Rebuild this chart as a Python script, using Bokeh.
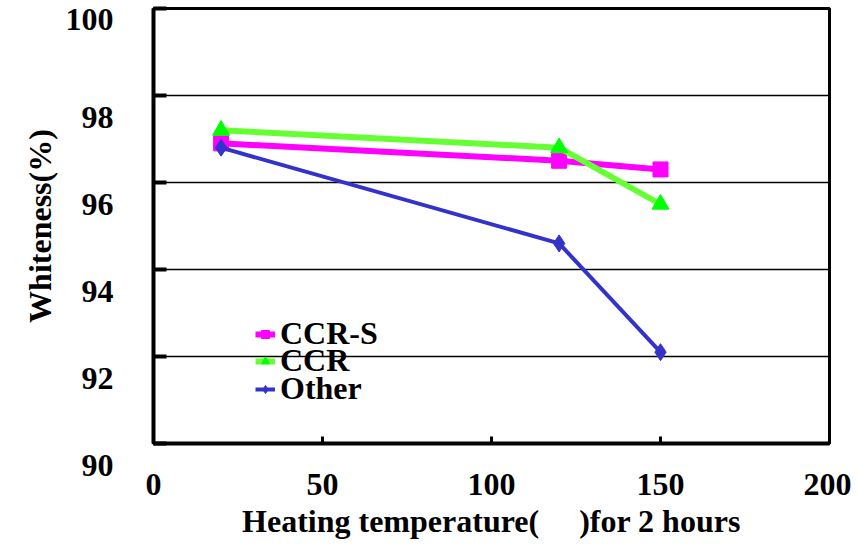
from bokeh.plotting import figure
from bokeh.models import Legend, LegendItem, FixedTicker
from bokeh.embed import file_html
from bokeh.resources import INLINE

temps = [20, 120, 150]
ccr_s = [96.9, 96.5, 96.3]
ccr = [97.2, 96.8, 95.5]
other = [96.8, 94.6, 92.1]
series_names = ["CCR-S", "CCR", "Other"]
x_ticks = [0, 50, 100, 150, 200]
y_ticks = [90, 92, 94, 96, 98, 100]

FONT = "Liberation Serif"
FS = "32px"

p = figure(width=851, height=550, x_range=(0, 200), y_range=(90, 100),
           output_backend="svg", toolbar_location=None,
           min_border_left=153, min_border_right=22, min_border_top=8, min_border_bottom=107)
p.outline_line_color = "black"
p.outline_line_width = 3

p.xgrid.grid_line_alpha = 0
p.ygrid.grid_line_color = "black"
p.ygrid.grid_line_width = 1.5
p.ygrid.ticker = FixedTicker(ticks=y_ticks)

p.xaxis.ticker = FixedTicker(ticks=x_ticks)
p.yaxis.ticker = FixedTicker(ticks=y_ticks)
for ax in (p.xaxis[0], p.yaxis[0]):
    ax.major_label_text_font = FONT
    ax.major_label_text_font_style = "bold"
    ax.major_label_text_font_size = FS
    ax.major_label_text_color = "black"
    ax.axis_label_text_font = FONT
    ax.axis_label_text_font_style = "bold"
    ax.axis_label_text_font_size = FS
    ax.axis_label_text_color = "black"
    ax.axis_line_color = "black"
    ax.axis_line_width = 4
    ax.major_tick_line_color = "black"
    ax.minor_tick_line_alpha = 0
    ax.major_tick_out = 0

p.yaxis.major_tick_in = 13
p.yaxis.major_tick_line_width = 4
p.yaxis.major_label_standoff = 40
p.yaxis.major_label_overrides = {v: ("\n" + str(v) if v != y_ticks[-1] else str(v)) for v in y_ticks}
p.yaxis.axis_label = "Whiteness(%)"

p.xaxis.major_tick_in = 7
p.xaxis.major_tick_line_width = 3
p.xaxis.major_label_standoff = 30
p.xaxis.axis_label = "Heating temperature(\u00a0\u00a0\u00a0\u00a0\u00a0)for 2 hours"

l1 = p.line(temps, ccr_s, line_color="#FF00FF", line_width=6)
m1 = p.scatter(temps, ccr_s, marker="square", size=15, fill_color="#FF00FF", line_color="#FF00FF")
l2 = p.line(temps, ccr, line_color="#66FF33", line_width=6)
m2 = p.scatter(temps, ccr, marker="triangle", size=17, fill_color="#00FF00", line_color="#00FF00")
l3 = p.line(temps, other, line_color="#3333CC", line_width=4)
m3 = p.scatter(temps, other, marker="diamond", size=17, fill_color="#3333CC", line_color="#3333CC")

rows = [(series_names[0], [l1, m1], 81), (series_names[1], [l2, m2], 54), (series_names[2], [l3, m3], 26)]
for name, rends, ypos in rows:
    lg = Legend(items=[LegendItem(label=name, renderers=rends)], location=(92, ypos))
    lg.label_text_font = FONT
    lg.label_text_font_style = "bold"
    lg.label_text_font_size = FS
    lg.label_text_color = "black"
    lg.background_fill_alpha = 0
    lg.border_line_alpha = 0
    p.add_layout(lg)

open("out.html", "w").write(file_html(p, INLINE))
